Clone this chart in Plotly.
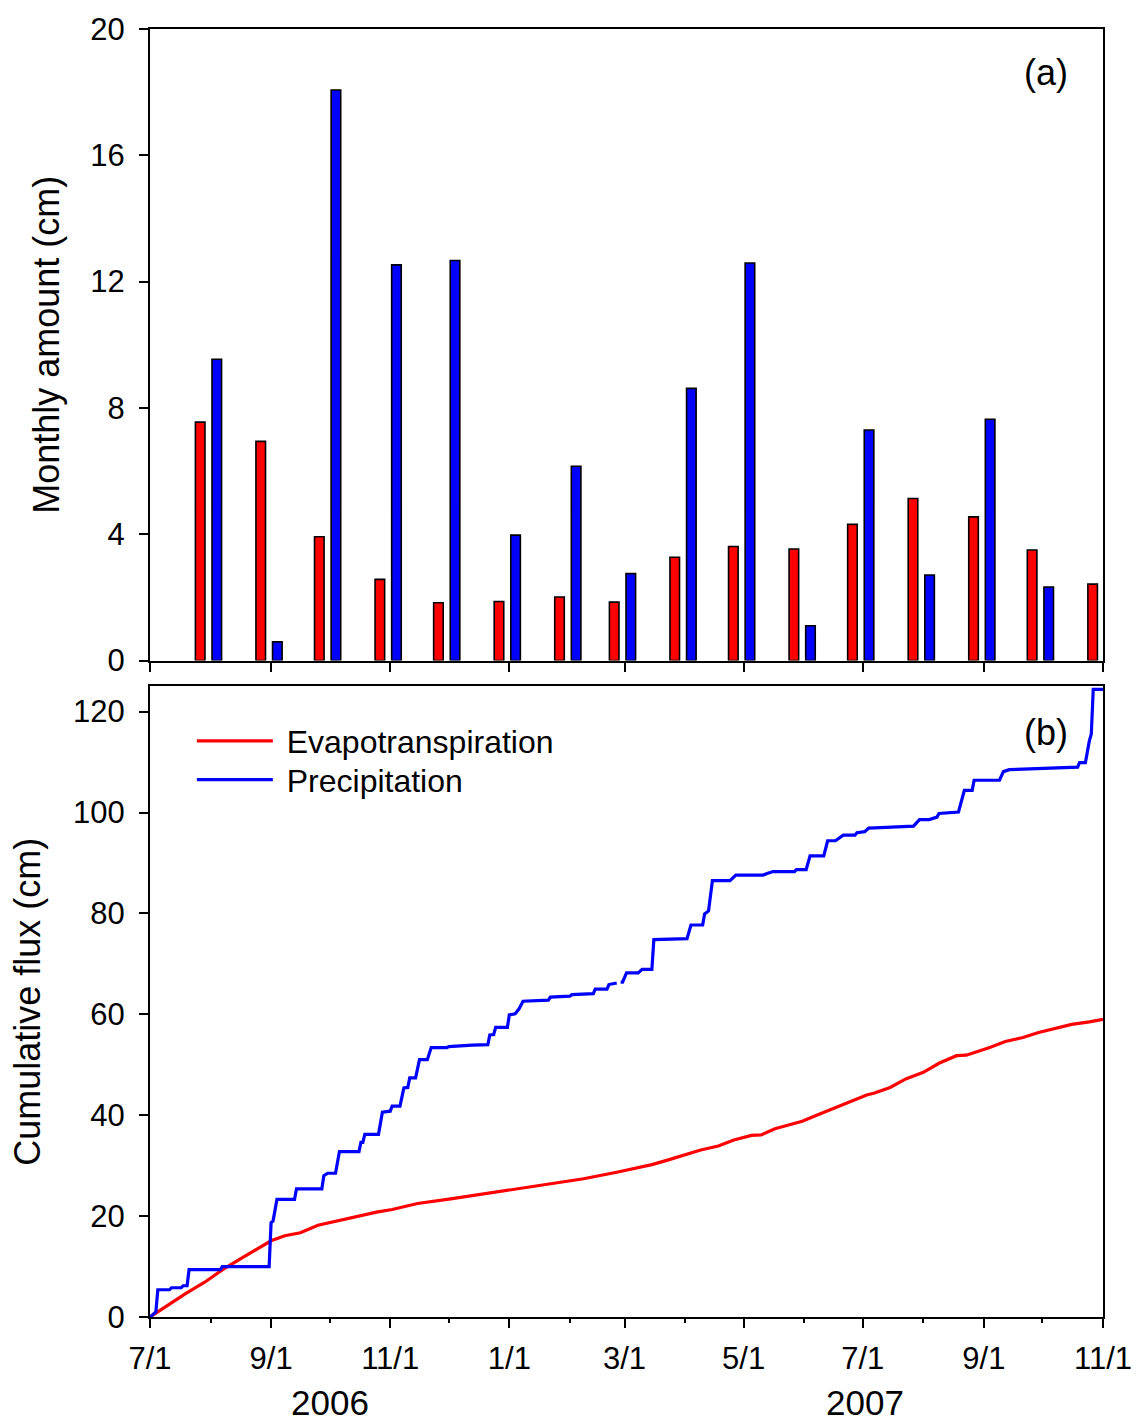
import pandas as pd
import plotly.graph_objects as go

# ---------------- monthly totals (cm) ----------------
months = ["2006-07", "2006-08", "2006-09", "2006-10", "2006-11", "2006-12",
          "2007-01", "2007-02", "2007-03", "2007-04", "2007-05", "2007-06",
          "2007-07", "2007-08", "2007-09", "2007-10"]
et_monthly = [7.55, 6.94, 3.92, 2.57, 1.83, 1.87, 2.01, 1.85,
              3.27, 3.61, 3.53, 4.31, 5.13, 4.55, 3.50, 2.42]
p_monthly = [9.54, 0.59, 18.07, 12.53, 12.67, 3.97, 6.15, 2.75,
             8.62, 12.59, 1.10, 7.30, 2.71, 7.64, 2.33]

# ---------------- cumulative fluxes (cm) ----------------
et_dates = ["2006-07-01", "2006-07-08", "2006-07-19", "2006-07-29", "2006-08-08",
            "2006-08-18", "2006-08-29", "2006-09-01", "2006-09-08", "2006-09-16",
            "2006-09-25", "2006-10-05", "2006-10-15", "2006-10-25", "2006-11-02",
            "2006-11-15", "2006-12-02", "2006-12-19", "2007-01-04", "2007-01-22",
            "2007-02-08", "2007-02-25", "2007-03-07", "2007-03-15", "2007-03-23",
            "2007-04-01", "2007-04-09", "2007-04-18", "2007-04-26", "2007-05-05",
            "2007-05-10", "2007-05-17", "2007-05-31", "2007-06-08", "2007-06-16",
            "2007-06-25", "2007-07-03", "2007-07-07", "2007-07-15", "2007-07-23",
            "2007-08-01", "2007-08-09", "2007-08-18", "2007-08-23", "2007-09-04",
            "2007-09-12", "2007-09-21", "2007-09-29", "2007-10-08", "2007-10-16",
            "2007-10-25", "2007-11-01"]
et_cum = [0.0, 1.8, 4.6, 6.9, 9.6,
          11.9, 14.4, 15.1, 16.1, 16.7,
          18.2, 19.1, 20.0, 20.8, 21.3,
          22.5, 23.4, 24.4, 25.2, 26.4,
          27.4, 28.7, 29.5, 30.2, 31.1,
          32.1, 33.1, 33.9, 35.1, 36.0,
          36.1, 37.3, 38.8, 40.1, 41.3,
          42.8, 44.0, 44.4, 45.5, 47.2,
          48.5, 50.3, 51.8, 51.9, 53.4,
          54.6, 55.4, 56.4, 57.2, 58.0,
          58.5, 59.0]

p_dates = ["2006-07-01", "2006-07-04", "2006-07-05", "2006-07-11", "2006-07-12",
           "2006-07-17", "2006-07-18", "2006-07-20", "2006-07-21", "2006-08-06",
           "2006-08-07", "2006-08-31", "2006-09-01", "2006-09-02", "2006-09-04",
           "2006-09-13", "2006-09-14", "2006-09-27", "2006-09-28", "2006-09-30",
           "2006-10-04", "2006-10-06", "2006-10-16", "2006-10-17", "2006-10-18",
           "2006-10-19", "2006-10-26", "2006-10-28", "2006-11-01", "2006-11-02",
           "2006-11-06", "2006-11-08", "2006-11-10", "2006-11-11", "2006-11-14",
           "2006-11-16", "2006-11-20", "2006-11-22", "2006-11-30", "2006-12-01",
           "2006-12-13", "2006-12-21", "2006-12-22", "2006-12-24", "2006-12-25",
           "2006-12-31", "2007-01-01", "2007-01-04", "2007-01-06", "2007-01-08",
           "2007-01-21", "2007-01-22", "2007-02-01", "2007-02-02", "2007-02-13",
           "2007-02-14", "2007-02-20", "2007-02-21", "2007-02-25", "2007-02-26",
           "2007-02-27", "2007-02-28", "2007-03-02", "2007-03-08", "2007-03-10",
           "2007-03-15", "2007-03-16", "2007-03-24", "2007-04-02", "2007-04-04",
           "2007-04-10", "2007-04-11", "2007-04-13", "2007-04-15", "2007-04-24",
           "2007-04-27", "2007-05-11", "2007-05-13", "2007-05-16", "2007-05-27",
           "2007-05-28", "2007-06-02", "2007-06-04", "2007-06-11", "2007-06-13",
           "2007-06-17", "2007-06-21", "2007-06-27", "2007-06-28", "2007-07-02",
           "2007-07-04", "2007-07-10", "2007-07-27", "2007-07-30", "2007-08-04",
           "2007-08-08", "2007-08-09", "2007-08-19", "2007-08-22", "2007-08-26",
           "2007-08-27", "2007-09-09", "2007-09-11", "2007-09-14", "2007-10-19",
           "2007-10-20", "2007-10-23", "2007-10-25", "2007-10-26", "2007-10-27",
           "2007-11-01"]
p_cum = [0.0, 1.0, 5.4, 5.4, 5.8,
         5.8, 6.2, 6.2, 9.4, 9.4,
         10.0, 10.0, 18.7, 19.0, 23.3,
         23.3, 25.4, 25.4, 28.0, 28.5,
         28.5, 32.8, 32.8, 34.6, 34.6,
         36.2, 36.2, 40.6, 40.8, 41.8,
         41.8, 45.4, 45.5, 47.4, 47.4,
         51.0, 51.0, 53.4, 53.4, 53.6,
         53.9, 54.0, 55.9, 56.0, 57.4,
         57.4, 59.9, 60.1, 61.1, 62.6,
         62.8, 63.4, 63.6, 63.9, 64.1,
         65.0, 65.0, 65.9, 66.2, None,
         66.4, 66.4, 68.2, 68.2, 68.9,
         68.9, 74.8, 74.9, 75.0, 77.7,
         77.7, 79.9, 80.5, 86.5, 86.5,
         87.6, 87.6, 87.9, 88.3, 88.3,
         88.7, 88.7, 91.4, 91.4, 94.4,
         94.4, 95.5, 95.5, 96.0, 96.2,
         96.9, 97.0, 97.3, 98.6, 98.6,
         99.1, 99.8, 100.1, 104.4, 104.4,
         106.4, 106.4, 108.1, 108.5, 109.0,
         109.9, 109.9, 114.2, 115.5, 124.4,
         124.4]

year_labels = ["2006", "2007"]
year_label_dates = ["2006-10-01", "2007-07-02"]

RED = "#ff0000"
BLUE = "#0000ff"
FONT = "Liberation Sans, Arial, sans-serif"
DAY_MS = 86400000
NBSP = "\u00a0"

# monthly bars are drawn at the last day of each month
month_end = (pd.to_datetime(months) + pd.offsets.MonthEnd(0)).strftime("%Y-%m-%d").tolist()

fig = go.Figure()

fig.add_trace(go.Bar(
    x=month_end, y=et_monthly, xaxis="x", yaxis="y",
    width=4.9 * DAY_MS, offset=-6.75 * DAY_MS,
    marker=dict(color=RED, line=dict(color="black", width=1.6)),
    showlegend=False, name="Evapotranspiration"))
fig.add_trace(go.Bar(
    x=month_end[:len(p_monthly)], y=p_monthly, xaxis="x", yaxis="y",
    width=4.9 * DAY_MS, offset=1.75 * DAY_MS,
    marker=dict(color=BLUE, line=dict(color="black", width=1.6)),
    showlegend=False, name="Precipitation"))

fig.add_trace(go.Scatter(
    x=et_dates, y=et_cum, xaxis="x2", yaxis="y2", mode="lines",
    line=dict(color=RED, width=3.2), name=NBSP + "Evapotranspiration",
    legend="legend"))
fig.add_trace(go.Scatter(
    x=p_dates, y=p_cum, xaxis="x2", yaxis="y2", mode="lines",
    line=dict(color=BLUE, width=3.2), name=NBSP + "Precipitation",
    connectgaps=False, legend="legend2"))

axis_common = dict(
    showline=True, linewidth=2, linecolor="black", mirror=True,
    ticks="outside", ticklen=9, tickwidth=2, tickcolor="black",
    showgrid=False, zeroline=False,
    tickfont=dict(family=FONT, size=31, color="black"),
)
x_common = dict(axis_common, type="date", range=["2006-07-01", "2007-11-01"],
                tick0="2006-07-01", dtick="M2")

legend_common = dict(xanchor="left", yanchor="middle",
                     font=dict(family=FONT, size=32, color="black"),
                     bgcolor="rgba(0,0,0,0)", itemwidth=76)

fig.update_layout(
    width=1144, height=1426,
    margin=dict(l=150, r=37, t=22, b=109),
    paper_bgcolor="white", plot_bgcolor="white",
    barmode="overlay",
    font=dict(family=FONT, color="black"),
    xaxis=dict(x_common, domain=[0, 1], anchor="y", showticklabels=False),
    yaxis=dict(axis_common, domain=[0.5097, 1], anchor="x", range=[0, 20], dtick=4,
               ticklabelstandoff=8,
               title=dict(text="Monthly amount (cm)", font=dict(size=36), standoff=20)),
    xaxis2=dict(x_common, domain=[0, 1], anchor="y2", showticklabels=True,
                tickformat="%-m/%-d", ticklabelstandoff=4,
                minor=dict(dtick="M1", tick0="2006-07-01", ticks="outside",
                           ticklen=4, tickwidth=1.5, tickcolor="black")),
    yaxis2=dict(axis_common, domain=[0, 0.4896], anchor="x2", range=[0, 125], dtick=20,
                ticklabelstandoff=8,
                title=dict(text="Cumulative flux (cm)", font=dict(size=36), standoff=21)),
    legend=dict(legend_common, x=0.0439, y=0.4471),
    legend2=dict(legend_common, x=0.0439, y=0.4170),
)

fig.add_annotation(text="(a)", xref="paper", yref="paper", x=0.9404, y=0.966,
                   xanchor="center", yanchor="middle",
                   showarrow=False, font=dict(size=36))
fig.add_annotation(text="(b)", xref="paper", yref="paper", x=0.9404, y=0.454,
                   xanchor="center", yanchor="middle",
                   showarrow=False, font=dict(size=36))
for label, d in zip(year_labels, year_label_dates):
    fig.add_annotation(text=label, xref="x2", yref="paper", x=d, y=-0.0664,
                       xanchor="center", yanchor="middle",
                       showarrow=False, font=dict(size=35))

fig.write_html("out.html")
